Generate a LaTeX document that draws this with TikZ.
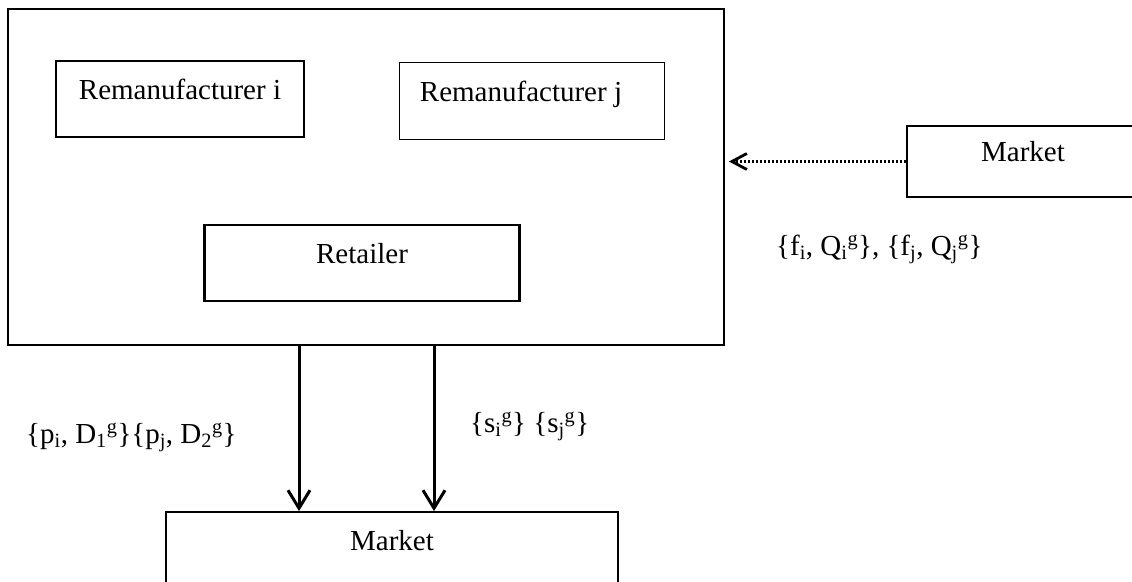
\documentclass[tikz,border=0pt]{standalone}
\usepackage{fontspec}
\setmainfont{Liberation Serif}
\usetikzlibrary{arrows.meta}

\begin{document}
\begin{tikzpicture}[x=1pt, y=-1pt,
    every node/.style={font=\fontsize{29}{35}\selectfont},
    box/.style={draw, line width=1.8pt, inner sep=0pt, text height=20pt, text depth=20pt},
    flow/.style={line width=3pt, -{Straight Barb[length=18pt, width=22pt, line width=3pt]}},
    info/.style={line width=3pt, dash pattern=on 2.2pt off 1.8pt, -{Straight Barb[length=15pt, width=16pt, line width=2.8pt]}, shorten >=4pt}]
    \useasboundingbox (0,0) rectangle (1132,581);

    % firm side: two remanufacturers and the retailer
    \node[box, minimum width=716pt, minimum height=336pt] (firm) at (366,177) {};
    \node[box, minimum width=248pt, minimum height=76pt] (remi) at (180,99) {Remanufacturer i};
    \node[box, minimum width=265pt, minimum height=77pt] (remj) at (532,101) {Remanufacturer j\hspace*{22pt}};
    \node[box, line width=2.3pt, minimum width=315pt, minimum height=76pt] (ret) at (362,263) {Retailer};

    % the two markets
    \node[box, minimum width=232pt, minimum height=71pt] (mktr) at (1023,161.5) {Market};
    \node[box, minimum width=452pt, minimum height=76pt] (mktb) at (392,550) {Market};

    \coordinate (p) at (299,0);
    \coordinate (s) at (434,0);
    \draw[flow] (firm.south -| p) -- (mktb.north -| p);
    \draw[flow] (firm.south -| s) -- (mktb.north -| s);
    \draw[info] (mktr.west) -- (firm.east |- mktr.west);

    \node[anchor=base west, inner sep=0pt] (lf) at (776,255)
        {\{f\textsubscript{i}, Q\textsubscript{i}\textsuperscript{g}\}, \{f\textsubscript{j}, Q\textsubscript{j}\textsuperscript{g}\}};
    \node[anchor=base west, inner sep=0pt] (lp) at (26,443)
        {\{p\textsubscript{i}, D\textsubscript{1}\textsuperscript{g}\}\{p\textsubscript{j}, D\textsubscript{2}\textsuperscript{g}\}};
    \node[anchor=base west, inner sep=0pt] (ls) at (470,432)
        {\{s\textsubscript{i}\textsuperscript{g}\} \{s\textsubscript{j}\textsuperscript{g}\}};
\end{tikzpicture}
\end{document}
